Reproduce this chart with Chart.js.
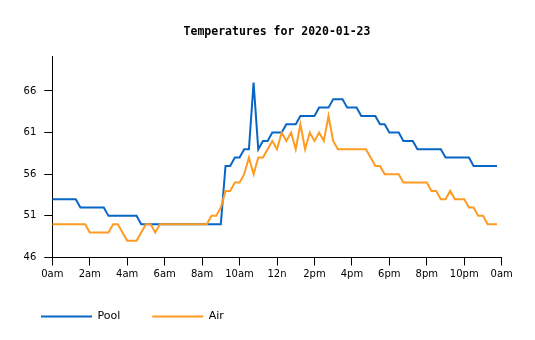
<!DOCTYPE html>
<html><head><meta charset="utf-8">
<script src="https://cdn.jsdelivr.net/npm/chart.js@4"></script>
<style>html,body{margin:0;padding:0;background:#fff}</style>
</head><body>
<canvas id="c" width="535" height="340"></canvas>
<script>
const chartTitle = "Temperatures for 2020-01-23";
const seriesNames = ["Pool", "Air"];
const stepHours = 0.25; // one reading every 15 minutes, starting at midnight
const pool = [
  53,53,53,53,53,53,52,52,52,52,52,52,
  51,51,51,51,51,51,51,50,50,50,50,50,
  50,50,50,50,50,50,50,50,50,50,50,50,
  50,57,57,58,58,59,59,67,59,60,60,61,
  61,61,62,62,62,63,63,63,63,64,64,64,
  65,65,65,64,64,64,63,63,63,63,62,62,
  61,61,61,60,60,60,59,59,59,59,59,59,
  58,58,58,58,58,58,57,57,57,57,57,57
];
const air = [
  50,50,50,50,50,50,50,50,49,49,49,49,
  49,50,50,49,48,48,48,49,50,50,49,50,
  50,50,50,50,50,50,50,50,50,50,51,51,
  52,54,54,55,55,56,58,56,58,58,59,60,
  59,61,60,61,59,62,59,61,60,61,60,63,
  60,59,59,59,59,59,59,59,58,57,57,56,
  56,56,56,55,55,55,55,55,55,54,54,53,
  53,54,53,53,53,52,52,51,51,50,50,50
];
const xTickValues = [0,2,4,6,8,10,12,14,16,18,20,22,24];
const xTickLabels = ["0am","2am","4am","6am","8am","10am","12n","2pm","4pm","6pm","8pm","10pm","0am"];
const yTickValues = [46,51,56,61,66];
const yMin = 46, yMax = 70.2;
const colors = ["#0866c6", "#ff9a22"];

const toPoints = arr => arr.map((v, i) => ({x: i * stepHours, y: v}));
const tickFont = {family: "'DejaVu Sans'", size: 10};
const gridOpts = {drawOnChartArea: false, drawTicks: true, tickLength: 8, color: "#000", lineWidth: 1};

new Chart(document.getElementById("c"), {
  type: "line",
  data: {
    datasets: [
      {label: seriesNames[0], data: toPoints(pool), borderColor: colors[0], backgroundColor: colors[0], borderWidth: 2, pointRadius: 0, tension: 0, fill: false, order: 1},
      {label: seriesNames[1], data: toPoints(air), borderColor: colors[1], backgroundColor: colors[1], borderWidth: 2, pointRadius: 0, tension: 0, fill: false, order: 0}
    ]
  },
  options: {
    responsive: false,
    animation: false,
    devicePixelRatio: 1,
    layout: {padding: {left: 9, right: 33.3, top: 0, bottom: 8}},
    plugins: {
      title: {
        display: true, text: chartTitle, color: "#000", fullSize: false,
        font: {family: "'DejaVu Sans Mono'", size: 11.5, weight: "bold"},
        padding: {top: 25, bottom: 17.2}
      },
      legend: {
        display: true, position: "bottom", align: "start",
        labels: {
          boxWidth: 51, boxHeight: 2, padding: 32, color: "#000",
          font: {family: "'DejaVu Sans'", size: 11},
          sort: (a, b) => a.datasetIndex - b.datasetIndex,
          generateLabels: chart => Chart.defaults.plugins.legend.labels.generateLabels(chart).map(l => ({...l, lineWidth: 0, fillStyle: l.strokeStyle}))
        }
      },
      tooltip: {enabled: false}
    },
    scales: {
      x: {
        type: "linear", min: 0, max: 24,
        afterBuildTicks: s => { s.ticks = xTickValues.map(v => ({value: v})); },
        afterFit: s => { s.height = 21.5; },
        ticks: {autoSkip: false, maxRotation: 0, color: "#000", font: tickFont, padding: 3,
          callback: v => xTickLabels[xTickValues.indexOf(v)]},
        grid: gridOpts,
        border: {display: true, color: "#000", width: 1}
      },
      y: {
        type: "linear", min: yMin, max: yMax,
        afterBuildTicks: s => { s.ticks = yTickValues.map(v => ({value: v})); },
        afterFit: s => { s.width = 43.3; },
        ticks: {color: "#000", font: tickFont, padding: 8},
        grid: gridOpts,
        border: {display: true, color: "#000", width: 1}
      }
    }
  }
});
</script>
</body></html>
